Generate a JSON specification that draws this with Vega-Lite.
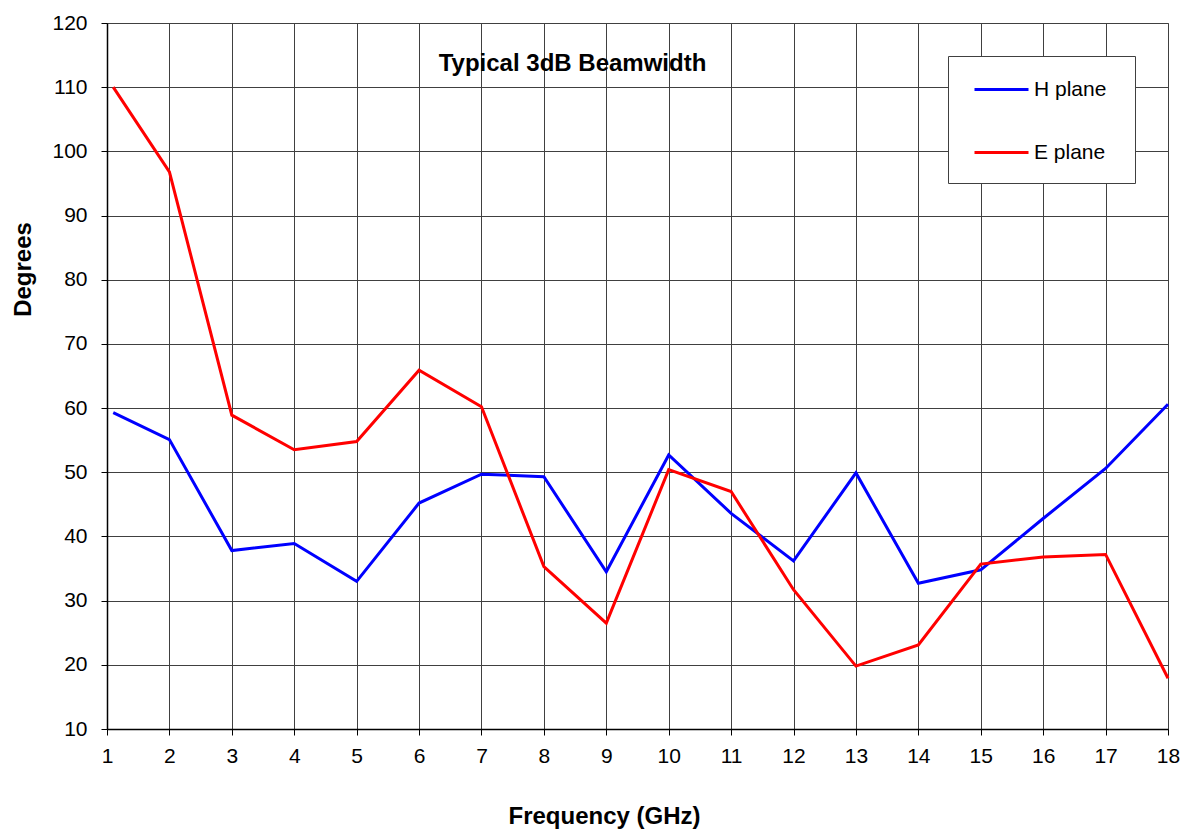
{
  "$schema": "https://vega.github.io/schema/vega-lite/v6.json",
  "autosize": {"type": "none"},
  "width": 1061,
  "height": 706,
  "padding": {"left": 107, "top": 23, "right": 16, "bottom": 102},
  "background": "white",
  "config": {
    "font": "Liberation Sans",
    "view": {"stroke": "#808080", "strokeWidth": 1}
  },
  "title": {
    "text": "Typical 3dB Beamwidth",
    "font": "Liberation Sans",
    "fontSize": 24,
    "fontWeight": "bold",
    "color": "black",
    "anchor": "middle",
    "dx": -65,
    "dy": 68
  },
  "data": {
    "values": [
      {"f": 1.1, "deg": 59.3, "series": "H plane"},
      {"f": 2, "deg": 55.1, "series": "H plane"},
      {"f": 3, "deg": 37.8, "series": "H plane"},
      {"f": 4, "deg": 38.9, "series": "H plane"},
      {"f": 5, "deg": 33.0, "series": "H plane"},
      {"f": 6, "deg": 45.2, "series": "H plane"},
      {"f": 7, "deg": 49.7, "series": "H plane"},
      {"f": 8, "deg": 49.3, "series": "H plane"},
      {"f": 9, "deg": 34.5, "series": "H plane"},
      {"f": 10, "deg": 52.7, "series": "H plane"},
      {"f": 11, "deg": 43.6, "series": "H plane"},
      {"f": 12, "deg": 36.2, "series": "H plane"},
      {"f": 13, "deg": 49.9, "series": "H plane"},
      {"f": 14, "deg": 32.7, "series": "H plane"},
      {"f": 15, "deg": 34.8, "series": "H plane"},
      {"f": 16, "deg": 42.8, "series": "H plane"},
      {"f": 17, "deg": 50.6, "series": "H plane"},
      {"f": 18, "deg": 60.6, "series": "H plane"},
      {"f": 1.1, "deg": 110.0, "series": "E plane"},
      {"f": 2, "deg": 96.8, "series": "E plane"},
      {"f": 3, "deg": 58.9, "series": "E plane"},
      {"f": 4, "deg": 53.5, "series": "E plane"},
      {"f": 5, "deg": 54.8, "series": "E plane"},
      {"f": 6, "deg": 65.9, "series": "E plane"},
      {"f": 7, "deg": 60.2, "series": "E plane"},
      {"f": 8, "deg": 35.3, "series": "E plane"},
      {"f": 9, "deg": 26.5, "series": "E plane"},
      {"f": 10, "deg": 50.4, "series": "E plane"},
      {"f": 11, "deg": 47.0, "series": "E plane"},
      {"f": 12, "deg": 31.7, "series": "E plane"},
      {"f": 13, "deg": 19.8, "series": "E plane"},
      {"f": 14, "deg": 23.1, "series": "E plane"},
      {"f": 15, "deg": 35.7, "series": "E plane"},
      {"f": 16, "deg": 36.8, "series": "E plane"},
      {"f": 17, "deg": 37.2, "series": "E plane"},
      {"f": 18, "deg": 17.9, "series": "E plane"}
    ]
  },
  "mark": {"type": "line", "strokeWidth": 3, "clip": false},
  "encoding": {
    "x": {
      "field": "f",
      "type": "quantitative",
      "scale": {"domain": [1, 18], "nice": false, "zero": false},
      "axis": {
        "title": "Frequency (GHz)",
        "titleFont": "Liberation Sans",
        "titleFontSize": 24,
        "titleFontWeight": "bold",
        "titleColor": "black",
        "titleX": 497,
        "titleY": 87,
        "titleBaseline": "middle",
        "values": [1,2,3,4,5,6,7,8,9,10,11,12,13,14,15,16,17,18],
        "format": "d",
        "labelFontSize": 21,
        "labelColor": "black",
        "labelPadding": 10,
        "labelFlush": false,
        "labelOverlap": false,
        "tickColor": "black",
        "tickSize": 6,
        "domainColor": "black",
        "domainWidth": 1.5,
        "grid": true,
        "gridColor": "#404040",
        "gridOpacity": 1,
        "gridWidth": 1
      }
    },
    "y": {
      "field": "deg",
      "type": "quantitative",
      "scale": {"domain": [10, 120], "nice": false, "zero": false},
      "axis": {
        "title": "Degrees",
        "titleFont": "Liberation Sans",
        "titleFontSize": 24,
        "titleFontWeight": "bold",
        "titleColor": "black",
        "titleAngle": -90,
        "titleX": -84,
        "titleY": 246,
        "titleBaseline": "middle",
        "titleAlign": "center",
        "values": [10,20,30,40,50,60,70,80,90,100,110,120],
        "labelFontSize": 21,
        "labelColor": "black",
        "labelPadding": 14,
        "labelFlush": false,
        "labelOverlap": false,
        "tickColor": "black",
        "tickSize": 6,
        "domainColor": "black",
        "domainWidth": 1.5,
        "grid": true,
        "gridColor": "#404040",
        "gridOpacity": 1,
        "gridWidth": 1
      }
    },
    "color": {
      "field": "series",
      "type": "nominal",
      "sort": ["H plane", "E plane"],
      "scale": {"domain": ["H plane", "E plane"], "range": ["#0000FF", "#FF0000"]},
      "legend": {
        "title": " ",
        "titleOrient": "right",
        "titlePadding": 24,
        "titleFontSize": 132,
        "orient": "none",
        "legendX": 841,
        "legendY": 33,
        "direction": "vertical",
        "symbolType": "stroke",
        "symbolSize": 2916,
        "symbolStrokeWidth": 3,
        "symbolOffset": 20,
        "labelFontSize": 21,
        "labelColor": "black",
        "labelOffset": 4,
        "rowPadding": 24,
        "padding": 5,
        "fillColor": "white",
        "strokeColor": "#404040"
      }
    }
  }
}
